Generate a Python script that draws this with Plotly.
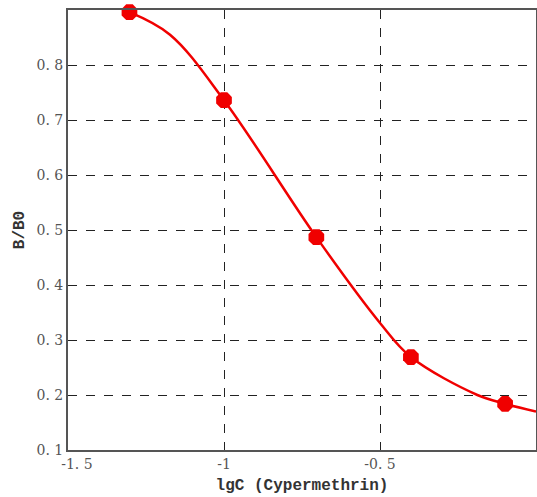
import plotly.graph_objects as go

# measured points
lgc = [-1.303, -1.0, -0.704, -0.401, -0.099]
b_b0 = [0.896, 0.736, 0.487, 0.269, 0.184]

# fitted curve
curve_x = [-1.303, -1.173, -1.0, -0.704, -0.50, -0.401, -0.188, -0.099, 0.0]
curve_y = [0.896, 0.855, 0.736, 0.487, 0.331, 0.269, 0.200, 0.184, 0.170]

x_ticks = [-1.5, -1, -0.5, 0]
x_ticktext = ["\u00a0\u00a0\u00a0\u00a0-1.\u00a05", "-1", "-0.\u00a05", "0"]
y_ticks = [0.1, 0.2, 0.3, 0.4, 0.5, 0.6, 0.7, 0.8]
y_ticktext = ["0.\u00a01", "0.\u00a02", "0.\u00a03", "0.\u00a04", "0.\u00a05", "0.\u00a06", "0.\u00a07", "0.\u00a08"]

red = "#f00000"
fig = go.Figure()
fig.add_trace(go.Scatter(x=curve_x, y=curve_y, mode="lines",
                         line=dict(color=red, width=2.5, shape="spline", smoothing=1.0),
                         hoverinfo="skip"))
fig.add_trace(go.Scatter(x=lgc, y=b_b0, mode="markers",
                         marker=dict(color=red, size=17, symbol="octagon",
                                     line=dict(width=0)),
                         cliponaxis=False))

tickfont = dict(family="DejaVu Serif, Liberation Serif", size=14, color="#555555")
titlefont = dict(family="Liberation Mono, DejaVu Sans Mono", size=16, color="#333333")

fig.update_layout(
    width=537, height=497,
    margin=dict(l=68, r=1, t=10, b=47),
    paper_bgcolor="white", plot_bgcolor="white",
    showlegend=False,
    xaxis=dict(range=[-1.5, 0], tickvals=x_ticks, ticktext=x_ticktext,
               showgrid=True, gridcolor="#222222", griddash="dash", gridwidth=1,
               zeroline=False, showline=True, linecolor="#555555", linewidth=2,
               mirror=True, ticks="", tickfont=tickfont, automargin=False,
               title=dict(text="<b>lgC (Cypermethrin)</b>", font=titlefont, standoff=8)),
    yaxis=dict(range=[0.1, 0.9], tickvals=y_ticks, ticktext=y_ticktext,
               showgrid=True, gridcolor="#222222", griddash="dash", gridwidth=1,
               zeroline=False, showline=True, linecolor="#555555", linewidth=2,
               mirror=True, ticks="", tickfont=tickfont, automargin=False,
               title=dict(text="<b>B/B0</b>", font=titlefont, standoff=8)),
)

fig.write_html("out.html", config={"displayModeBar": False},
               post_script="document.body.style.margin='0';document.body.style.overflow='hidden';")
